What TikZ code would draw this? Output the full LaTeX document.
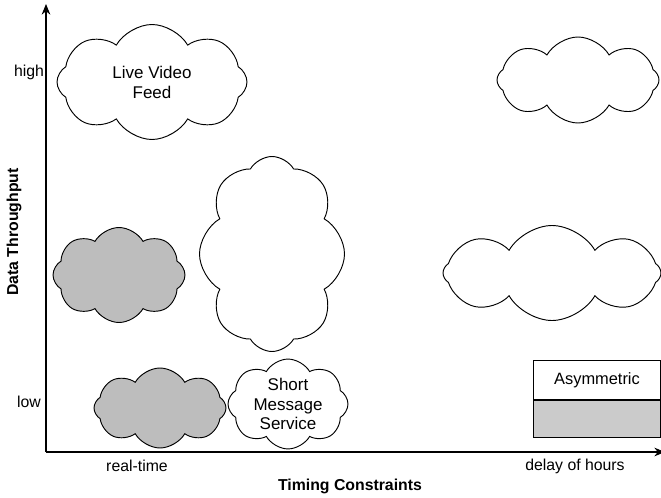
\documentclass[tikz,border=0pt]{standalone}
\usepackage{fontspec}
\setmainfont{Liberation Sans}
\usepackage{tikz}
\usetikzlibrary{shapes.symbols, arrows.meta}
\definecolor{cloudgray}{HTML}{BDBDBD}
\definecolor{boxgray}{HTML}{CBCBCB}
\tikzstyle{cloudnode} = [cloud, cloud puffs=8, cloud puff arc=120, cloud ignores aspect, draw=black, line width=0.8pt, fill=white, align=center, font=\fontsize{14.5}{17}\selectfont, inner sep=0pt]
\tikzstyle{graycloud} = [cloudnode, fill=cloudgray]
\tikzstyle{axislabel} = [font=\fontsize{13.5}{16}\selectfont]
\tikzstyle{axistitle} = [font=\fontsize{13.5}{16}\selectfont\bfseries]
\tikzstyle{arrow} = [line width=0.9pt,-{Stealth[length=3.2mm, width=2.6mm]}]

\begin{document}
\begin{tikzpicture}[x=0.03cm, y=-0.03cm]
    \useasboundingbox (0,0) rectangle (661,498);

    % Axes
    \coordinate (origin) at (46,452);
    \coordinate (ytop) at (46,4);
    \coordinate (xend) at (665,452);
    \draw [arrow] (origin) -- (ytop);
    \draw [arrow] (origin) -- (xend);

    % Axis labels
    \node (high) [axislabel] at (29,72) {high};
    \node (low) [axislabel] at (29,402) {low};
    \node (realtime) [axislabel] at (137,466) {real-time};
    \node (delay) [axislabel] at (575,466) {delay of hours};
    \node (timing) [axistitle] at (350,486) {Timing Constraints};
    \node (throughput) [axistitle, rotate=90] at (14,232) {Data Throughput};

    % Clouds
    \node (video) [cloudnode, minimum width=5.7cm, minimum height=3.45cm] at (152,82) {Live Video\\Feed};
    \node (topright) [cloudnode, minimum width=4.86cm, minimum height=2.58cm] at (578,80) {};
    \node (midgray) [graycloud, minimum width=3.96cm, minimum height=2.85cm] at (119,275) {};
    \node (tall) [cloudnode, minimum width=4.35cm, minimum height=5.85cm] at (272,254) {};
    \node (midright) [cloudnode, minimum width=6.54cm, minimum height=2.85cm] at (552,273) {};
    \node (lowgray) [graycloud, minimum width=3.96cm, minimum height=2.4cm] at (160,408) {};
    \node (sms) [cloudnode, minimum width=3.6cm, minimum height=2.16cm] at (288,404) {Short\\Message\\Service};

    % Legend
    \draw [fill=boxgray, line width=0.8pt] (533,400) rectangle (660,437);
    \draw [fill=white, line width=0.8pt] (533,360) rectangle (660,400);
    \draw [line width=1.3pt] (533,400) -- (660,400);
    \node (asym) [font=\fontsize{14}{17}\selectfont] at (597,380) {Asymmetric};

\end{tikzpicture}
\end{document}
